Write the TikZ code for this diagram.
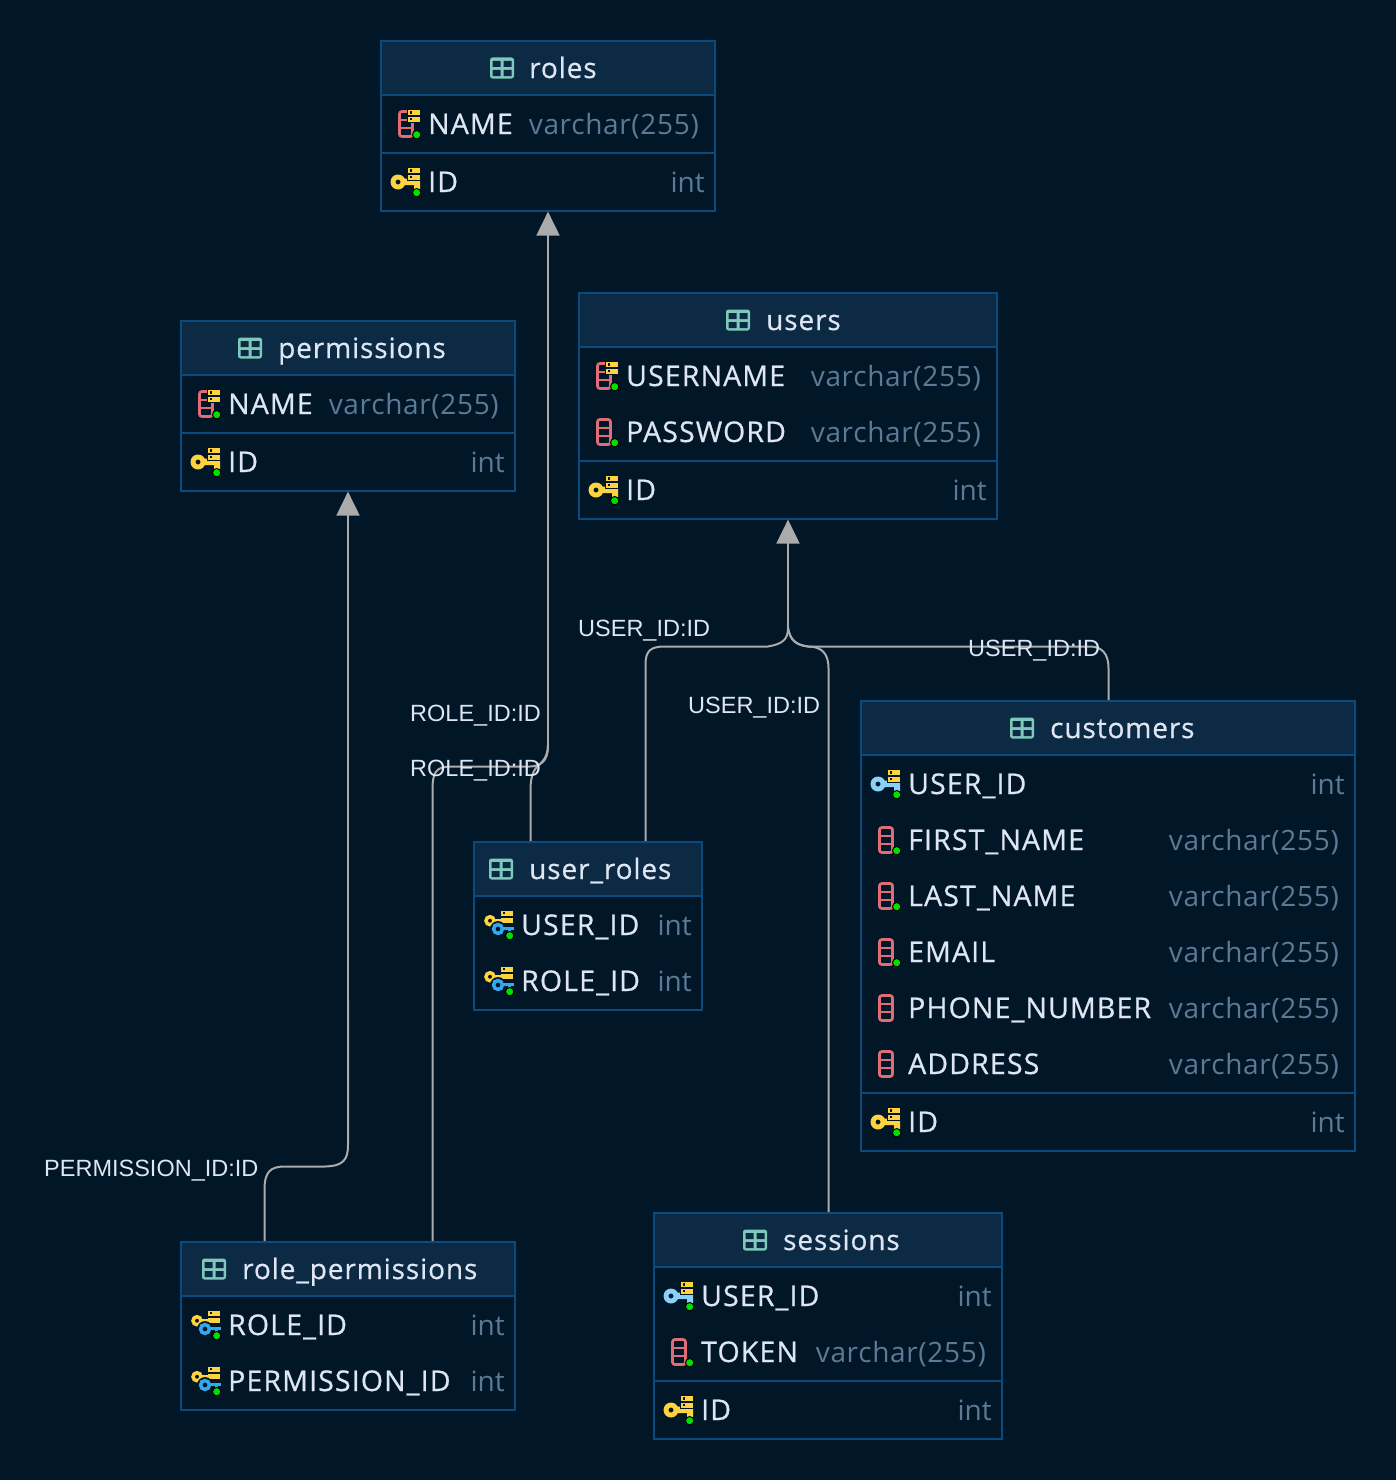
\documentclass[tikz,border=0pt]{standalone}
\usepackage{fontspec}
\setmainfont{Open Sans}
\newfontfamily\edgefont{Liberation Sans}
\newfontfamily\namefont[LetterSpace=4,FakeBold=0.7]{Open Sans}
\newfontfamily\titlefont[LetterSpace=3.2,FakeBold=0.6]{Open Sans}
\newfontfamily\typefont[LetterSpace=2.4]{Open Sans}
\newfontfamily\intfont{Open Sans}
\usetikzlibrary{arrows.meta}

\definecolor{pagebg}{HTML}{011627}
\definecolor{headbg}{HTML}{0D2A45}
\definecolor{tblline}{HTML}{0B4A7C}
\definecolor{nametext}{HTML}{DDE6F2}
\definecolor{typetext}{HTML}{5B7A96}
\definecolor{linkgray}{HTML}{ABABAB}
\definecolor{iconteal}{HTML}{7FC8BC}
\definecolor{iconred}{HTML}{E06C75}
\definecolor{iconyellow}{HTML}{FFD23F}
\definecolor{iconsky}{HTML}{8AD0F8}
\definecolor{iconblue}{HTML}{33A8EE}
\definecolor{icongreen}{HTML}{00E000}

\tikzset{
  tblbody/.style={draw=tblline, line width=1.2pt, fill=pagebg, inner sep=0pt},
  tblhead/.style={draw=tblline, line width=1.2pt, fill=headbg, inner sep=0pt},
  tblsep/.style={draw=tblline, line width=1.5pt},
  tbltitle/.style={font=\titlefont\fontsize{28}{30}\selectfont, text=nametext, anchor=west, inner sep=0pt, text height=20pt, text depth=0pt, execute at begin node=\kern-1pt},
  colname/.style={font=\namefont\fontsize{28.5}{30}\selectfont, text=nametext, anchor=west, inner sep=0pt, text height=20pt, text depth=0pt, execute at begin node=\kern-1pt},
  coltype/.style={font=\typefont\fontsize{28}{30}\selectfont, text=typetext, anchor=east, inner sep=0pt, text height=20pt, text depth=0pt},
  colint/.style={coltype, font=\intfont\fontsize{28}{30}\selectfont},
  linklabel/.style={font=\edgefont\fontsize{23.5}{26}\selectfont, text=nametext, anchor=west, inner sep=0pt, text height=17pt, text depth=0pt},
  link/.style={draw=linkgray, line width=2pt},
  linkhead/.style={link, -{Triangle[width=23pt,length=24pt,fill=linkgray]}},
  pics/tblicon/.style={code={
    \fill[iconteal, rounded corners=2.5pt] (-12,-10.5) rectangle (12,10.5);
    \fill[headbg] (-9.5,-7) rectangle (-1.5,-1) (1.5,-7) rectangle (9.5,-1);
    \fill[headbg] (-9.5,2) rectangle (-1.5,8) (1.5,2) rectangle (9.5,8);
  }},
  pics/colicon/.style={code={
    \draw[iconred, line width=2.8pt, rounded corners=2.5pt] (-29.5,-12.5) rectangle (-16.5,12.5);
    \draw[iconred, line width=2.5pt] (-29.5,-4) -- (-16.5,-4) (-29.5,4) -- (-16.5,4);
  }},
  pics/uniqbars/.style={code={
    \fill[pagebg] (-22,-15.5) rectangle (-8,-1);
    \fill[iconyellow] (-21,-14.5) rectangle (-9,-9);
    \fill[iconyellow] (-21,-7.5) rectangle (-9,-2.5);
    \fill[pagebg] (-19.5,-13) rectangle (-17,-10.5);
    \fill[pagebg] (-19.5,-6.2) rectangle (-17,-3.8);
  }},
  pics/nndot/.style={code={
    \fill[icongreen, draw=black, line width=1pt] (-12.3,10.7) circle (4.2);
  }},
  pics/keyicon/.style={code={
    \fill[#1, even odd rule] (-31,0) circle (7.5) (-31,0) circle (2.6);
    \fill[#1] (-25,-3.5) rectangle (-9,3) (-15,3) rectangle (-9,7);
    \fill[pagebg] (-22,-15.5) rectangle (-8,-1);
    \fill[iconyellow] (-21,-14.5) rectangle (-9,-9);
    \fill[iconyellow] (-21,-7.5) rectangle (-9,-2.5);
    \fill[pagebg] (-19.5,-13) rectangle (-17,-10.5);
    \fill[pagebg] (-19.5,-6.2) rectangle (-17,-3.8);
  }},
  pics/fkicon/.style={code={
    \fill[iconyellow] (-21,-14.5) rectangle (-9,-9.5);
    \fill[iconyellow] (-21,-7) rectangle (-9,-2);
    \fill[pagebg] (-19.5,-13.5) rectangle (-17,-11);
    \draw[iconyellow, line width=3.5pt] (-32,-4.3) circle (4);
    \draw[iconyellow, line width=3.5pt] (-28,-4.3) -- (-21,-4.3);
    \draw[pagebg, line width=1.5pt] (-24,4) circle (7.2);
    \draw[iconblue, line width=3.5pt] (-24,4) circle (4.4);
    \draw[iconblue, line width=3.5pt] (-20,3.5) -- (-8,3.5);
    \draw[iconblue, line width=3pt] (-13,3.5) -- (-13,8);
  }},
}

\begin{document}
\begin{tikzpicture}[x=1pt, y=-1pt]
  \useasboundingbox (0,0) rectangle (1396,1480);
  \fill[pagebg] (0,0) rectangle (1396,1480);

  % tables first, so the links can name them
  \node[tblbody, minimum width=334pt, minimum height=170pt] (roles) at (548,126) {};
  \node[tblbody, minimum width=334pt, minimum height=170pt] (permissions) at (348,406) {};
  \node[tblbody, minimum width=418pt, minimum height=226pt] (users) at (788,406) {};
  \node[tblbody, minimum width=494pt, minimum height=450pt] (customers) at (1108,926) {};
  \node[tblbody, minimum width=228pt, minimum height=168pt] (userroles) at (588,926) {};
  \node[tblbody, minimum width=334pt, minimum height=168pt] (rolepermissions) at (348,1326) {};
  \node[tblbody, minimum width=348pt, minimum height=226pt] (sessions) at (828,1326) {};

  % links
  \coordinate (urrole) at (530.5,841);
  \coordinate (urrolebend) at (530.5,790);
  \coordinate (rprole) at (432.5,1241);
  \coordinate (rprolebend) at (432.5,790);
  \coordinate (rpperm) at (264.5,1241);
  \coordinate (rolesfork) at (548,745);
  \coordinate (urusertop) at (645.5,841);
  \coordinate (usersfork) at (788,628);
  \coordinate (custusertop) at (1108.5,700);

  \draw[link] (urrole) -- (urrolebend) .. controls (530.5,773) and (535,768) .. (541,763) .. controls (546,758) and (548,752) .. (rolesfork);
  \draw[link] (rprole) -- (rprolebend) .. controls (432.5,772) and (436,767) .. (450,766.5) -- (530,766.5) .. controls (546,766) and (548,755) .. (rolesfork);
  \draw[linkhead] (rolesfork) -- (roles.south);

  \draw[link] (rpperm) -- (264.5,1190) .. controls (264.5,1172) and (270,1166.5) .. (285,1166.5) -- (325,1166.5) .. controls (343,1166) and (348,1160) .. (348,1145) -- (348,1000);
  \draw[linkhead] (348,1000) -- (permissions.south);

  \draw[link] (urusertop) -- (645.5,665) .. controls (645.5,651) and (650,646.5) .. (665,646.5) -- (768,646.5) .. controls (782,644) and (788,640) .. (usersfork);
  \draw[link] (sessions.north -| 828.5,0) -- (828.5,668) .. controls (828.5,654) and (822,646.5) .. (808,646.5) .. controls (796,645) and (790,640) .. (usersfork);
  \draw[link] (custusertop) -- (1108.5,668) .. controls (1108.5,654) and (1102,646.5) .. (1090,646.5) -- (808,646.5) .. controls (796,645) and (790,640) .. (usersfork);
  \draw[linkhead] (usersfork) -- (users.south);

  \node[linklabel] (lblurusers) at (578,627.5) {USER\_ID:ID};
  \node[linklabel] (lblsessusers) at (688,704.5) {USER\_ID:ID};
  \node[linklabel] (lblcustusers) at (968,647.5) {USER\_ID:ID};
  \node[linklabel] (lblurroles) at (410,712.5) {ROLE\_ID:ID};
  \node[linklabel] (lblrproles) at (410,767.5) {ROLE\_ID:ID};
  \node[linklabel] (lblrpperm) at (44,1167.5) {PERMISSION\_ID:ID};

  % roles
  \node[tblhead, minimum width=334pt, minimum height=54pt] (roleshead) at (548,68) {};
  \draw[tblsep] (roles.west |- 0,153) -- (roles.east |- 0,153);
  \node[tbltitle] (rolestitle) at (530,68) {roles};
  \pic at (502,68) {tblicon};
  \node[colname] (rolesname) at (429,124) {NAME};
  \node[coltype] (rolesnametype) at (699,124) {varchar(255)};
  \pic at (rolesname.west) {colicon};
  \pic at (rolesname.west) {uniqbars};
  \pic at (rolesname.west) {nndot};
  \node[colname] (rolesid) at (429,182) {ID};
  \node[colint] (rolesidtype) at (705,182) {int};
  \pic at (rolesid.west) {keyicon=iconyellow};
  \pic at (rolesid.west) {nndot};

  % permissions
  \node[tblhead, minimum width=334pt, minimum height=54pt] (permissionshead) at (348,348) {};
  \draw[tblsep] (permissions.west |- 0,433) -- (permissions.east |- 0,433);
  \node[tbltitle] (permissionstitle) at (279,348) {permissions};
  \pic at (250,348) {tblicon};
  \node[colname] (permissionsname) at (229,404) {NAME};
  \node[coltype] (permissionsnametype) at (499,404) {varchar(255)};
  \pic at (permissionsname.west) {colicon};
  \pic at (permissionsname.west) {uniqbars};
  \pic at (permissionsname.west) {nndot};
  \node[colname] (permissionsid) at (229,462) {ID};
  \node[colint] (permissionsidtype) at (505,462) {int};
  \pic at (permissionsid.west) {keyicon=iconyellow};
  \pic at (permissionsid.west) {nndot};

  % users
  \node[tblhead, minimum width=418pt, minimum height=54pt] (usershead) at (788,320) {};
  \draw[tblsep] (users.west |- 0,461) -- (users.east |- 0,461);
  \node[tbltitle] (userstitle) at (767,320) {users};
  \pic at (738,320) {tblicon};
  \node[colname] (usersusername) at (627,376) {USERNAME};
  \node[coltype] (usersusernametype) at (981,376) {varchar(255)};
  \pic at (usersusername.west) {colicon};
  \pic at (usersusername.west) {uniqbars};
  \pic at (usersusername.west) {nndot};
  \node[colname] (userspassword) at (627,432) {PASSWORD};
  \node[coltype] (userspasswordtype) at (981,432) {varchar(255)};
  \pic at (userspassword.west) {colicon};
  \pic at (userspassword.west) {nndot};
  \node[colname] (usersid) at (627,490) {ID};
  \node[colint] (usersidtype) at (987,490) {int};
  \pic at (usersid.west) {keyicon=iconyellow};
  \pic at (usersid.west) {nndot};

  % customers
  \node[tblhead, minimum width=494pt, minimum height=54pt] (customershead) at (1108,728) {};
  \draw[tblsep] (customers.west |- 0,1093) -- (customers.east |- 0,1093);
  \node[tbltitle] (customerstitle) at (1051,728) {customers};
  \pic at (1022,728) {tblicon};
  \node[colname] (custuserid) at (909,784) {USER\_ID};
  \node[colint] (custuseridtype) at (1345,784) {int};
  \pic at (custuserid.west) {keyicon=iconsky};
  \pic at (custuserid.west) {nndot};
  \node[colname] (custfirst) at (909,840) {FIRST\_NAME};
  \node[coltype] (custfirsttype) at (1339,840) {varchar(255)};
  \pic at (custfirst.west) {colicon};
  \pic at (custfirst.west) {nndot};
  \node[colname] (custlast) at (909,896) {LAST\_NAME};
  \node[coltype] (custlasttype) at (1339,896) {varchar(255)};
  \pic at (custlast.west) {colicon};
  \pic at (custlast.west) {nndot};
  \node[colname] (custemail) at (909,952) {EMAIL};
  \node[coltype] (custemailtype) at (1339,952) {varchar(255)};
  \pic at (custemail.west) {colicon};
  \pic at (custemail.west) {nndot};
  \node[colname] (custphone) at (909,1008) {PHONE\_NUMBER};
  \node[coltype] (custphonetype) at (1339,1008) {varchar(255)};
  \pic at (custphone.west) {colicon};
  \node[colname] (custaddress) at (909,1064) {ADDRESS};
  \node[coltype] (custaddresstype) at (1339,1064) {varchar(255)};
  \pic at (custaddress.west) {colicon};
  \node[colname] (custid) at (909,1122) {ID};
  \node[colint] (custidtype) at (1345,1122) {int};
  \pic at (custid.west) {keyicon=iconyellow};
  \pic at (custid.west) {nndot};

  % user_roles
  \node[tblhead, minimum width=228pt, minimum height=54pt] (userroleshead) at (588,869) {};
  \node[tbltitle] (userrolestitle) at (530,869) {user\_roles};
  \pic at (501,869) {tblicon};
  \node[colname] (uruserid) at (522,925) {USER\_ID};
  \node[colint] (uruseridtype) at (692,925) {int};
  \pic at (uruserid.west) {fkicon};
  \pic at (uruserid.west) {nndot};
  \node[colname] (urroleid) at (522,981) {ROLE\_ID};
  \node[colint] (urroleidtype) at (692,981) {int};
  \pic at (urroleid.west) {fkicon};
  \pic at (urroleid.west) {nndot};

  % role_permissions
  \node[tblhead, minimum width=334pt, minimum height=54pt] (rolepermissionshead) at (348,1269) {};
  \node[tbltitle] (rolepermissionstitle) at (243,1269) {role\_permissions};
  \pic at (214,1269) {tblicon};
  \node[colname] (rproleid) at (229,1325) {ROLE\_ID};
  \node[colint] (rproleidtype) at (505,1325) {int};
  \pic at (rproleid.west) {fkicon};
  \pic at (rproleid.west) {nndot};
  \node[colname] (rppermid) at (229,1381) {PERMISSION\_ID};
  \node[colint] (rppermidtype) at (505,1381) {int};
  \pic at (rppermid.west) {fkicon};
  \pic at (rppermid.west) {nndot};

  % sessions
  \node[tblhead, minimum width=348pt, minimum height=54pt] (sessionshead) at (828,1240) {};
  \draw[tblsep] (sessions.west |- 0,1381) -- (sessions.east |- 0,1381);
  \node[tbltitle] (sessionstitle) at (784,1240) {sessions};
  \pic at (755,1240) {tblicon};
  \node[colname] (sessuserid) at (702,1296) {USER\_ID};
  \node[colint] (sessuseridtype) at (992,1296) {int};
  \pic at (sessuserid.west) {keyicon=iconsky};
  \pic at (sessuserid.west) {nndot};
  \node[colname] (sesstoken) at (702,1352) {TOKEN};
  \node[coltype] (sesstokentype) at (986,1352) {varchar(255)};
  \pic at (sesstoken.west) {colicon};
  \pic at (sesstoken.west) {nndot};
  \node[colname] (sessid) at (702,1410) {ID};
  \node[colint] (sessidtype) at (992,1410) {int};
  \pic at (sessid.west) {keyicon=iconyellow};
  \pic at (sessid.west) {nndot};
\end{tikzpicture}
\end{document}
